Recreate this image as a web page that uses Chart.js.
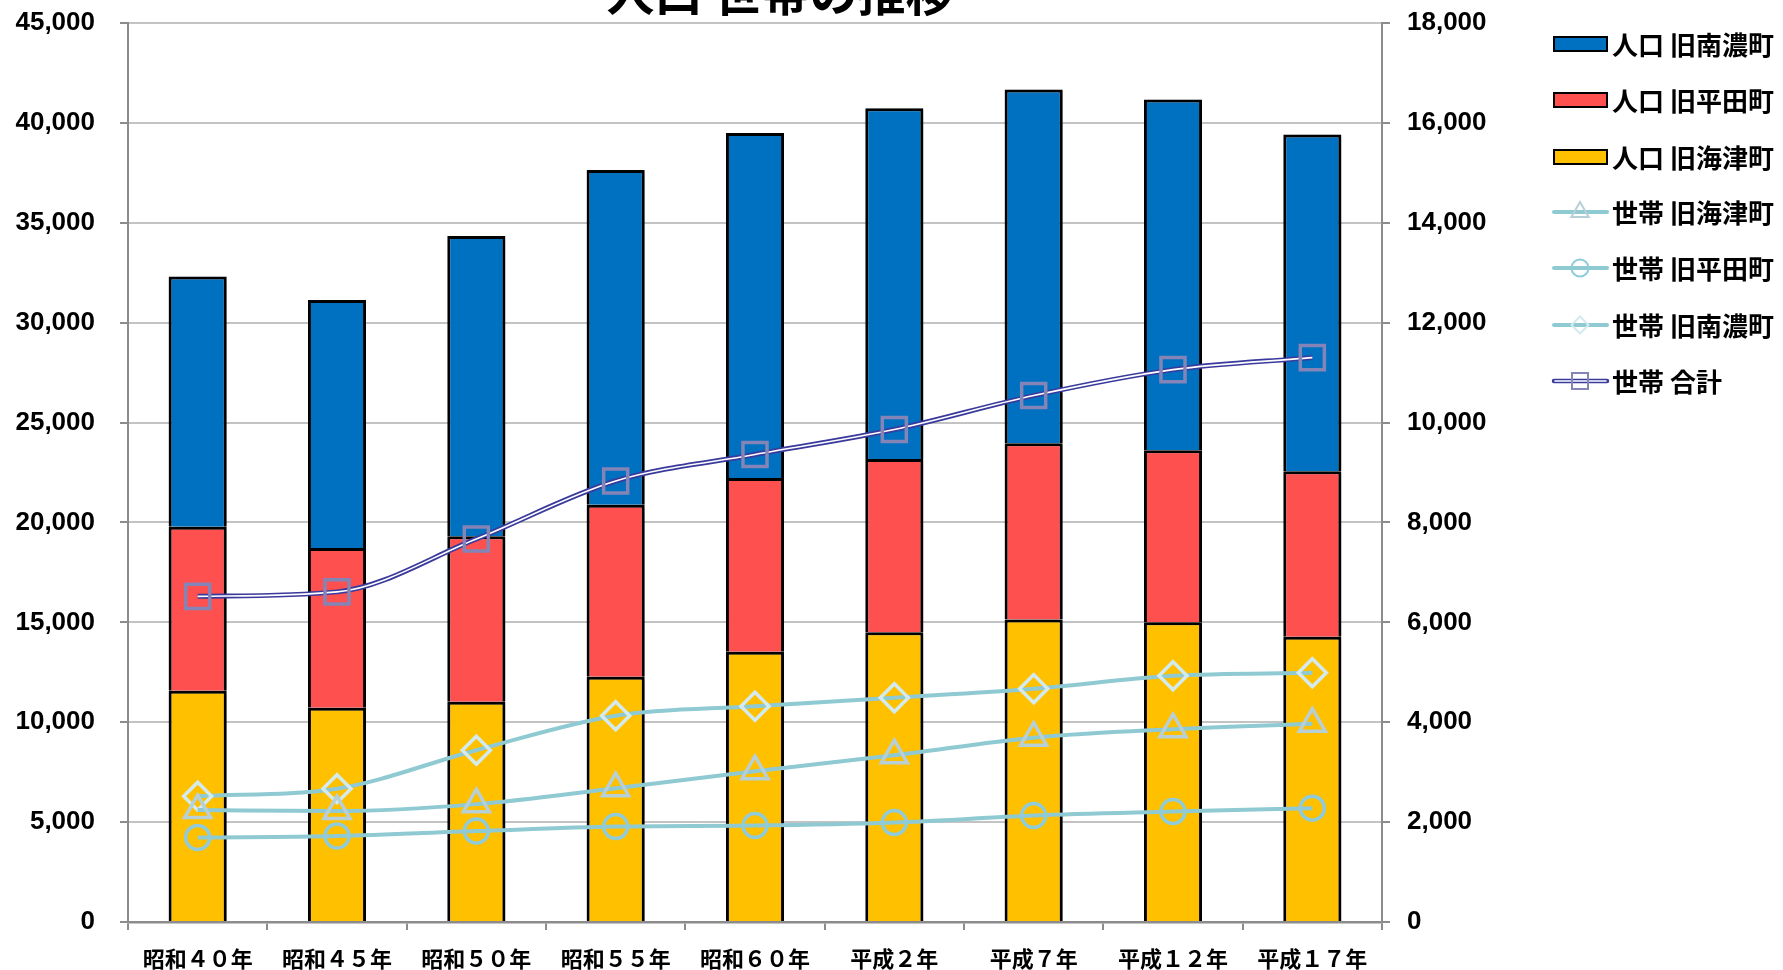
<!DOCTYPE html>
<html lang="ja">
<head>
<meta charset="utf-8">
<title>人口・世帯の推移</title>
<script src="https://cdn.jsdelivr.net/npm/chart.js@4/dist/chart.umd.min.js"></script>
<style>
  html, body { margin: 0; padding: 0; background: #fff; }
  #chart { display: block; }
</style>
</head>
<body>
<canvas id="chart" width="1783" height="970"></canvas>
<script>
// ── Data ─────────────────────────────────────────────────────────────────────

const categories = ['昭和４０年', '昭和４５年', '昭和５０年', '昭和５５年', '昭和６０年',
                    '平成２年', '平成７年', '平成１２年', '平成１７年'];

// population per former town (stacked bars, left axis)
const popKaizu  = [11580, 10720, 11030, 12280, 13530, 14500, 15140, 15000, 14280];
const popHirata = [ 8200,  8000,  8280,  8610,  8690,  8670,  8830,  8610,  8280];
const popNanno  = [12530, 12420, 15030, 16750, 17280, 17560, 17700, 17560, 16860];

// households (lines, right axis)
const hhKaizu  = [2240, 2220, 2360, 2680, 3020, 3340, 3690, 3860, 3970];
const hhHirata = [1690, 1720, 1820, 1910, 1930, 1990, 2130, 2210, 2280];
const hhNanno  = [2520, 2670, 3440, 4130, 4320, 4490, 4670, 4930, 4990];
const hhTotal  = [6520, 6610, 7670, 8830, 9360, 9860, 10540, 11060, 11300];

const popTicks = [0, 5000, 10000, 15000, 20000, 25000, 30000, 35000, 40000, 45000];
const hhTicks  = [0, 2000, 4000, 6000, 8000, 10000, 12000, 14000, 16000, 18000];

// ── Styles ───────────────────────────────────────────────────────────────────

const BLUE   = '#0070c0';
const RED    = '#ff5050';
const YELLOW = '#ffc000';
const TEAL   = '#8fcad3';
const TRI    = '#b7cfd6';
const CIRC   = '#8fcbd8';
const DIAM   = '#d3eaee';
const SQUARE = '#8484b6';
const NAVY   = '#3a3a9c';

const JP  = '"Noto Sans CJK JP", "Noto Sans", sans-serif';
const NUM = '"Liberation Sans", Arial, sans-serif';
const fmt = v => Number(v).toLocaleString('en-US');

// ── Plugins ──────────────────────────────────────────────────────────────────

// soft drop shadow behind the stacked bars
const barShadow = {
  id: 'barShadow',
  beforeDatasetDraw(chart, args) {
    if (args.meta.type !== 'bar') return;
    const ctx = chart.ctx;
    ctx.save();
    ctx.shadowColor = 'rgba(0,0,0,0.32)';
    ctx.shadowBlur = 6;
    ctx.shadowOffsetX = 3;
    ctx.shadowOffsetY = 2;
  },
  afterDatasetDraw(chart, args) {
    if (args.meta.type !== 'bar') return;
    chart.ctx.restore();
  },
};

// title sits partly above the canvas edge
const topTitle = {
  id: 'topTitle',
  afterDraw(chart) {
    const ctx = chart.ctx;
    ctx.save();
    ctx.font = `bold 48px ${JP}`;
    ctx.fillStyle = '#000';
    ctx.textAlign = 'center';
    ctx.textBaseline = 'alphabetic';
    ctx.fillText('人口 世帯の推移', 780, 11);
    ctx.restore();
  },
};

function marker(ctx, style, x, y, r, color, lw) {
  ctx.save();
  ctx.strokeStyle = color;
  ctx.lineWidth = lw;
  ctx.beginPath();
  if (style === 'triangle') {
    ctx.moveTo(x, y - r);
    ctx.lineTo(x + r * 0.866, y + r / 2);
    ctx.lineTo(x - r * 0.866, y + r / 2);
    ctx.closePath();
  } else if (style === 'circle') {
    ctx.arc(x, y, r, 0, Math.PI * 2);
  } else if (style === 'rectRot') {
    ctx.moveTo(x, y - r); ctx.lineTo(x + r, y); ctx.lineTo(x, y + r); ctx.lineTo(x - r, y);
    ctx.closePath();
  } else {
    ctx.rect(x - r, y - r, 2 * r, 2 * r);
  }
  ctx.stroke();
  ctx.restore();
}

// Excel-style legend on the right
const sideLegend = {
  id: 'sideLegend',
  afterDraw(chart) {
    const ctx = chart.ctx;
    const items = [
      { kind: 'bar',  color: BLUE,   text: '人口 旧南濃町' },
      { kind: 'bar',  color: RED,    text: '人口 旧平田町' },
      { kind: 'bar',  color: YELLOW, text: '人口 旧海津町' },
      { kind: 'line', style: 'triangle', mColor: TRI,  r: 10, text: '世帯 旧海津町' },
      { kind: 'line', style: 'circle',   mColor: CIRC, r: 8.5, text: '世帯 旧平田町' },
      { kind: 'line', style: 'rectRot',  mColor: DIAM, r: 8.5, text: '世帯 旧南濃町' },
      { kind: 'total', style: 'rect',    mColor: SQUARE, r: 8, text: '世帯 合計' },
    ];
    const rows = [44, 100, 157, 212, 268, 325, 381];
    const x0 = 1554, x1 = 1607, xm = 1580;

    ctx.save();
    items.forEach((it, i) => {
      const y = rows[i];
      if (it.kind === 'bar') {
        ctx.fillStyle = it.color;
        ctx.fillRect(x0, y - 7, x1 - x0, 14);
        ctx.strokeStyle = '#000';
        ctx.lineWidth = 2;
        ctx.strokeRect(x0, y - 7, x1 - x0, 14);
      } else if (it.kind === 'line') {
        ctx.strokeStyle = TEAL;
        ctx.lineWidth = 4;
        ctx.lineCap = 'round';
        ctx.beginPath(); ctx.moveTo(x0, y); ctx.lineTo(x1, y); ctx.stroke();
        marker(ctx, it.style, xm, y, it.r, it.mColor, 2);
      } else {
        ctx.lineCap = 'round';
        ctx.strokeStyle = NAVY; ctx.lineWidth = 4.5;
        ctx.beginPath(); ctx.moveTo(x0, y); ctx.lineTo(x1, y); ctx.stroke();
        ctx.strokeStyle = '#fff'; ctx.lineWidth = 1.6;
        ctx.beginPath(); ctx.moveTo(x0 + 1, y); ctx.lineTo(x1 - 1, y); ctx.stroke();
        marker(ctx, it.style, xm, y, it.r, it.mColor, 2);
      }
      ctx.fillStyle = '#000';
      ctx.font = `bold 26px ${JP}`;
      ctx.textAlign = 'left';
      ctx.textBaseline = 'middle';
      ctx.fillText(it.text, 1612, y + 1);
    });
    ctx.restore();
  },
};

// fixed axis widths, no extra label padding above/below
function fixWidth(w) {
  return s => {
    s.width = w;
    s.paddingTop = 0;
    s.paddingBottom = 0;
  };
}

// ── Chart ────────────────────────────────────────────────────────────────────

const barBase = {
  type: 'bar',
  yAxisID: 'y',
  borderColor: '#000',
  borderWidth: 3,
  borderSkipped: 'start',
  barPercentage: 0.417,
  categoryPercentage: 1,
  order: 3,
};

const lineBase = {
  type: 'line',
  yAxisID: 'y1',
  borderColor: TEAL,
  borderWidth: 4,
  fill: false,
  cubicInterpolationMode: 'monotone',
  pointBackgroundColor: 'rgba(0,0,0,0)',
  pointBorderWidth: 3.5,
  order: 2,
};

new Chart(document.getElementById('chart'), {
  data: {
    labels: categories,
    datasets: [
      { ...barBase, label: '人口 旧海津町', data: popKaizu,  backgroundColor: YELLOW },
      { ...barBase, label: '人口 旧平田町', data: popHirata, backgroundColor: RED },
      { ...barBase, label: '人口 旧南濃町', data: popNanno,  backgroundColor: BLUE },
      { ...lineBase, label: '世帯 旧海津町', data: hhKaizu,
        pointStyle: 'triangle', pointRadius: 15, pointBorderColor: TRI },
      { ...lineBase, label: '世帯 旧平田町', data: hhHirata,
        pointStyle: 'circle', pointRadius: 12, pointBorderColor: CIRC },
      { ...lineBase, label: '世帯 旧南濃町', data: hhNanno,
        pointStyle: 'rectRot', pointRadius: 14, pointBorderColor: DIAM },
      // total: dark outer stroke + white inner stroke gives the double line
      { ...lineBase, label: '世帯 合計', data: hhTotal, borderColor: NAVY,
        borderWidth: 5, pointRadius: 0, order: 1 },
      { ...lineBase, label: '世帯 合計 inner', data: hhTotal, borderColor: '#fff',
        borderWidth: 1.6, pointStyle: 'rect', pointRadius: 17,
        pointBorderColor: SQUARE, pointBorderWidth: 3.5, order: 0 },
    ],
  },
  options: {
    responsive: false,
    animation: false,
    events: [],
    devicePixelRatio: 1,
    layout: { padding: { left: 0, right: 251, top: 23, bottom: 0 } },
    plugins: {
      legend: { display: false },
      tooltip: { enabled: false },
      title: { display: false },
    },
    scales: {
      x: {
        stacked: true,
        grid: { display: true, drawOnChartArea: false, tickLength: 8, tickColor: '#8c8c8c', lineWidth: 2 },
        border: { color: '#8c8c8c', width: 2.5 },
        ticks: { color: '#000', font: { family: JP, size: 22, weight: 'bold' }, padding: 15,
                 maxRotation: 0, autoSkip: false },
        afterFit(s) { s.height = 48; },
      },
      y: {
        stacked: true,
        position: 'left',
        min: 0,
        max: 45000,
        afterBuildTicks(s) { s.ticks = popTicks.map(v => ({ value: v })); },
        grid: { color: '#c3c3c3', lineWidth: 2, tickLength: 8, tickColor: '#8c8c8c' },
        border: { color: '#8c8c8c', width: 2 },
        ticks: { color: '#000', font: { family: NUM, size: 26, weight: 'bold' }, padding: 25,
                 callback: v => fmt(v) },
        afterFit: fixWidth(128),
      },
      y1: {
        position: 'right',
        min: 0,
        max: 18000,
        afterBuildTicks(s) { s.ticks = hhTicks.map(v => ({ value: v })); },
        grid: { drawOnChartArea: false, tickLength: 8, tickColor: '#8c8c8c', lineWidth: 2 },
        border: { color: '#8c8c8c', width: 2 },
        ticks: { color: '#000', font: { family: NUM, size: 26, weight: 'bold' }, padding: 17,
                 callback: v => fmt(v) },
        afterFit: fixWidth(150),
      },
    },
  },
  plugins: [barShadow, topTitle, sideLegend],
});
</script>
</body>
</html>
